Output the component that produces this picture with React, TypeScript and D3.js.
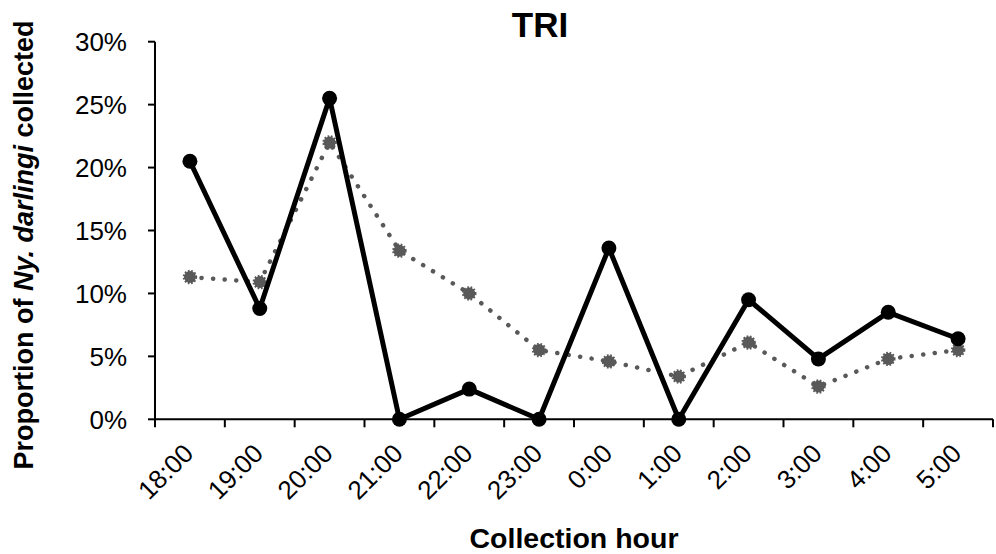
import React from "react";
import * as d3 from "d3";

const hours = ["18:00", "19:00", "20:00", "21:00", "22:00", "23:00", "0:00", "1:00", "2:00", "3:00", "4:00", "5:00"];
const solidSeries = [0.205, 0.088, 0.255, 0.0, 0.024, 0.0, 0.136, 0.0, 0.095, 0.048, 0.085, 0.064];
const dottedSeries = [0.113, 0.109, 0.22, 0.134, 0.1, 0.055, 0.046, 0.034, 0.061, 0.026, 0.048, 0.055];
const yTicks = [0, 0.05, 0.1, 0.15, 0.2, 0.25, 0.3];

const W = 996;
const H = 554;
const left = 155;
const right = 993;
const top = 41.7;
const bottom = 419.3;
const FONT = "Liberation Sans, Arial, sans-serif";

export default function App() {
  const x = d3.scaleBand<string>().domain(hours).range([left, right]).padding(0);
  const y = d3.scaleLinear().domain([0, 0.3]).range([bottom, top]);
  const cx = (h: string) => (x(h) as number) + x.bandwidth() / 2;
  const line = d3
    .line<number>()
    .x((_, i) => cx(hours[i]))
    .y((d) => y(d));
  const boundaries = d3.range(hours.length + 1).map((i) => left + i * x.bandwidth());

  return (
    <svg
      width={W}
      height={H}
      style={{ position: "absolute", left: 0, top: 0, background: "#fff" }}
      fontFamily={FONT}
    >
      <rect x={0} y={0} width={W} height={H} fill="#fff" />
      {/* title */}
      <text x={540} y={37} textAnchor="middle" fontSize={35} fontWeight="bold" fill="#000">
        TRI
      </text>
      {/* y axis */}
      <line x1={left} x2={left} y1={top} y2={bottom} stroke="#000" strokeWidth={2} />
      {yTicks.map((t) => (
        <g key={t}>
          <line x1={left - 7} x2={left} y1={y(t)} y2={y(t)} stroke="#000" strokeWidth={2} />
          <text x={127} y={y(t)} dy="0.36em" textAnchor="end" fontSize={26} fill="#000">
            {d3.format(".0%")(t)}
          </text>
        </g>
      ))}
      {/* x axis */}
      <line x1={left} x2={right} y1={bottom} y2={bottom} stroke="#000" strokeWidth={2} />
      {boundaries.map((b, i) => (
        <line key={i} x1={b} x2={b} y1={bottom} y2={bottom + 8} stroke="#000" strokeWidth={2} />
      ))}
      {hours.map((h) => (
        <text
          key={h}
          transform={`translate(${cx(h) + 5},${455}) rotate(-45)`}
          textAnchor="end"
          fontSize={26}
          fill="#000"
        >
          {h}
        </text>
      ))}
      {/* axis titles */}
      <text x={574} y={548} textAnchor="middle" fontSize={28.5} fontWeight="bold" fill="#000">
        Collection hour
      </text>
      <text
        transform={`translate(33,245) rotate(-90)`}
        textAnchor="middle"
        fontSize={27}
        fontWeight="bold"
        fill="#000"
      >
        Proportion of <tspan fontStyle="italic">Ny. darlingi</tspan> collected
      </text>
      {/* dotted series */}
      <path
        d={line(dottedSeries) || ""}
        fill="none"
        stroke="#595959"
        strokeWidth={4.5}
        strokeLinecap="round"
        strokeDasharray="0.1 11.5"
      />
      {dottedSeries.map((v, i) => (
        <circle
          key={i}
          cx={cx(hours[i])}
          cy={y(v)}
          r={6}
          fill="#595959"
          stroke="#595959"
          strokeWidth={2.5}
          strokeDasharray="1.6 1.6"
        />
      ))}
      {/* solid series */}
      <path d={line(solidSeries) || ""} fill="none" stroke="#000" strokeWidth={5} strokeLinejoin="round" />
      {solidSeries.map((v, i) => (
        <circle key={i} cx={cx(hours[i])} cy={y(v)} r={7.5} fill="#000" />
      ))}
    </svg>
  );
}
